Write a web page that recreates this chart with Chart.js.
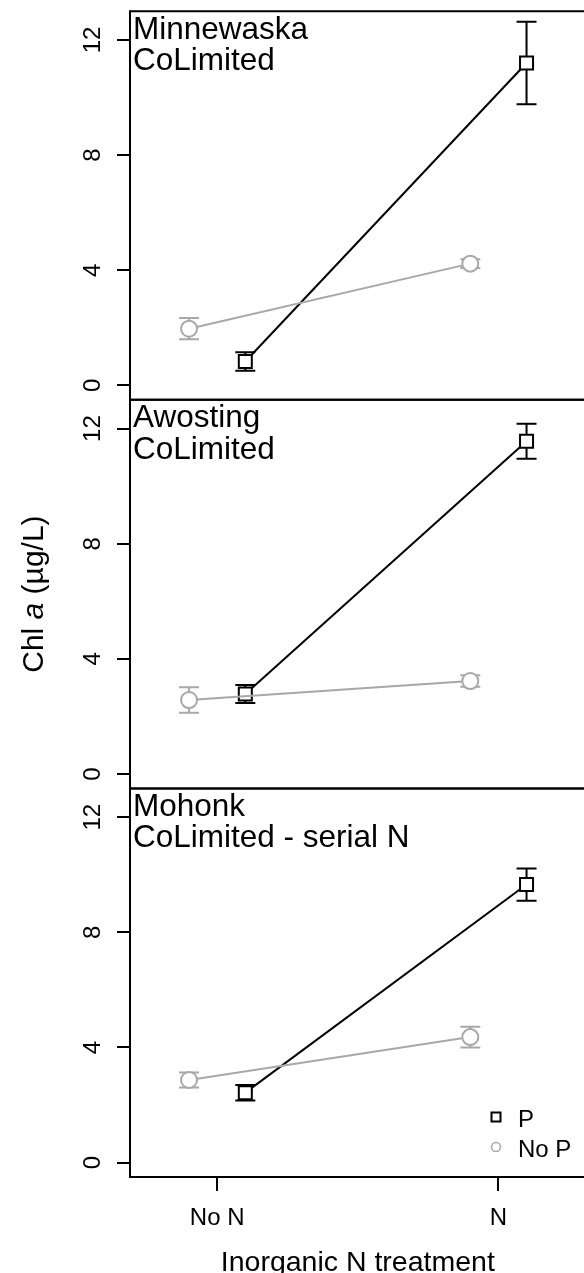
<!DOCTYPE html>
<html><head><meta charset="utf-8">
<script src="https://cdn.jsdelivr.net/npm/chart.js@4.4.0/dist/chart.umd.min.js"></script>
<style>html,body{margin:0;padding:0;background:#fff;}canvas{display:block;}</style>
</head><body>
<canvas id="c" width="584" height="1273"></canvas>
<script>
// ---- data ----
const categories = ["No N", "N"];
const sites = ["Minnewaska", "Awosting", "Mohonk"];
const limitation = ["CoLimited", "CoLimited", "CoLimited - serial N"];
const yTicks = [0, 4, 8, 12];
const seriesNames = ["P", "No P"];
// means and standard errors, ordered [No N, N]
const minnewaskaP = [0.83, 11.2];
const minnewaskaPse = [0.32, 1.43];
const minnewaskaNoP = [1.97, 4.23];
const minnewaskaNoPse = [0.37, 0.15];
const awostingP = [2.78, 11.56];
const awostingPse = [0.31, 0.61];
const awostingNoP = [2.57, 3.23];
const awostingNoPse = [0.44, 0.2];
const mohonkP = [2.43, 9.66];
const mohonkPse = [0.27, 0.56];
const mohonkNoP = [2.87, 4.36];
const mohonkNoPse = [0.26, 0.36];

// ---- styling ----
const FONT = "'Liberation Sans', Arial, sans-serif";
const BLACK = '#000000';
const GRAY = '#a8a8a8';
const DODGE = 0.1;
const PLOT_RIGHT = 585.6; // plot frame continues just past the canvas edge

const panels = [
  {P: minnewaskaP, Pse: minnewaskaPse, NoP: minnewaskaNoP, NoPse: minnewaskaNoPse},
  {P: awostingP, Pse: awostingPse, NoP: awostingNoP, NoPse: awostingNoPse},
  {P: mohonkP, Pse: mohonkPse, NoP: mohonkNoP, NoPse: mohonkNoPse}
];

const datasets = [];
panels.forEach((p, i) => {
  const axis = 'y' + i;
  datasets.push({
    label: seriesNames[1], yAxisID: axis, err: p.NoPse,
    data: categories.map((c, j) => ({x: j + 1 - DODGE, y: p.NoP[j]})),
    borderColor: GRAY, borderWidth: 2, backgroundColor: '#fff',
    pointStyle: 'circle', pointRadius: 8, pointBorderWidth: 2,
    pointBackgroundColor: '#fff', pointBorderColor: GRAY
  });
  datasets.push({
    label: seriesNames[0], yAxisID: axis, err: p.Pse,
    data: categories.map((c, j) => ({x: j + 1 + DODGE, y: p.P[j]})),
    borderColor: BLACK, borderWidth: 2, backgroundColor: '#fff',
    pointStyle: 'rect', pointRadius: 9.2, pointBorderWidth: 2,
    pointBackgroundColor: '#fff', pointBorderColor: BLACK
  });
});

function yScale() {
  return {
    type: 'linear', position: 'left', stack: 'panels', stackWeight: 1,
    min: -0.5, max: 13,
    afterBuildTicks: s => { s.ticks = yTicks.map(v => ({value: v})); },
    afterFit: s => { s.width = 130; s.paddingTop = 0; s.paddingBottom = 0; },
    ticks: {display: false},
    grid: {drawOnChartArea: false, drawTicks: true, tickLength: 13, color: BLACK, lineWidth: 2},
    border: {display: false}
  };
}

const scales = {
  x: {
    type: 'linear', min: 0.69, max: 2.31,
    afterBuildTicks: s => { s.ticks = categories.map((c, j) => ({value: j + 1})); },
    afterFit: s => { s.height = 96; s.paddingLeft = 0; s.paddingRight = 0; },
    ticks: {
      color: BLACK, font: {family: FONT, size: 24}, padding: 13,
      maxRotation: 0, minRotation: 0,
      callback: v => categories[Math.round(v) - 1]
    },
    grid: {drawOnChartArea: false, drawTicks: true, tickLength: 14, color: BLACK, lineWidth: 2},
    border: {display: false},
    title: {display: true, text: 'Inorganic N treatment', color: BLACK, font: {family: FONT, size: 28.5, lineHeight: 0.7}, padding: {top: 6, bottom: 0}}
  }
};
// bottom panel first so the first panel ends up on top of the stack
scales.y2 = yScale();
scales.y1 = yScale();
scales.y0 = yScale();

const widenPlot = {
  id: 'widenPlot',
  afterLayout(chart) {
    const x = chart.scales.x;
    x.right = PLOT_RIGHT;
    x.width = x.right - x.left;
    x.configure();
    chart.chartArea.right = PLOT_RIGHT;
    chart.chartArea.width = PLOT_RIGHT - chart.chartArea.left;
  }
};

const errorBars = {
  id: 'errorBars',
  beforeDatasetsDraw(chart) {
    const ctx = chart.ctx;
    const xs = chart.scales.x;
    chart.data.datasets.forEach((ds) => {
      const ys = chart.scales[ds.yAxisID];
      ds.data.forEach((d, j) => {
        const e = ds.err[j];
        const px = xs.getPixelForValue(d.x);
        const t = ys.getPixelForValue(d.y + e);
        const b = ys.getPixelForValue(d.y - e);
        ctx.save();
        ctx.strokeStyle = ds.borderColor;
        ctx.lineWidth = 2;
        ctx.beginPath();
        ctx.moveTo(px, t); ctx.lineTo(px, b);
        ctx.moveTo(px - 10, t); ctx.lineTo(px + 10, t);
        ctx.moveTo(px - 10, b); ctx.lineTo(px + 10, b);
        ctx.stroke();
        ctx.restore();
      });
    });
  }
};

const decorations = {
  id: 'decorations',
  afterDraw(chart) {
    const ctx = chart.ctx;
    const area = chart.chartArea;
    ctx.save();
    ctx.strokeStyle = BLACK;
    ctx.lineWidth = 2;
    ctx.beginPath();
    ctx.moveTo(area.left, area.top - 1); ctx.lineTo(area.left, area.bottom + 1);
    ctx.stroke();
    [0, 1, 2].forEach(i => {
      const ys = chart.scales['y' + i];
      ctx.beginPath();
      ctx.moveTo(area.left, ys.top); ctx.lineTo(chart.width + 2, ys.top);
      ctx.moveTo(area.left, ys.bottom); ctx.lineTo(chart.width + 2, ys.bottom);
      ctx.stroke();
      // tick labels, rotated
      ctx.fillStyle = BLACK;
      ctx.font = '24px ' + FONT;
      ctx.textAlign = 'center';
      ctx.textBaseline = 'alphabetic';
      yTicks.forEach(v => {
        const py = ys.getPixelForValue(v);
        ctx.save();
        ctx.translate(100, py);
        ctx.rotate(-Math.PI / 2);
        ctx.fillText(String(v), 0, 0);
        ctx.restore();
      });
      // panel labels
      ctx.textAlign = 'left';
      ctx.font = '31.5px ' + FONT;
      ctx.fillText(sites[i], area.left + 3, ys.top + 27.5);
      ctx.fillText(limitation[i], area.left + 3, ys.top + 59);
    });
    // y axis title with italic "a"
    const mid = chart.scales.y1;
    const cy = (mid.top + mid.bottom) / 2;
    const parts = [
      {t: 'Chl ', f: '30px ' + FONT},
      {t: 'a', f: 'italic 30px ' + FONT},
      {t: ' (\u00b5g/L)', f: '30px ' + FONT}
    ];
    let total = 0;
    parts.forEach(p => { ctx.font = p.f; p.w = ctx.measureText(p.t).width; total += p.w; });
    ctx.save();
    ctx.translate(43, cy);
    ctx.rotate(-Math.PI / 2);
    ctx.textAlign = 'left';
    let x0 = -total / 2;
    parts.forEach(p => { ctx.font = p.f; ctx.fillText(p.t, x0, 0); x0 += p.w; });
    ctx.restore();
    // legend
    const ly1 = 1117, ly2 = 1147, lx = 496;
    ctx.lineWidth = 2;
    ctx.strokeStyle = BLACK;
    ctx.strokeRect(lx - 4.5, ly1 - 4.5, 9, 9);
    ctx.strokeStyle = GRAY;
    ctx.lineWidth = 1.5;
    ctx.beginPath(); ctx.arc(lx, ly2, 4.5, 0, Math.PI * 2); ctx.stroke();
    ctx.fillStyle = BLACK;
    ctx.font = '24px ' + FONT;
    ctx.textAlign = 'left';
    ctx.fillText(seriesNames[0], 518, 1127);
    ctx.fillText(seriesNames[1], 518, 1157);
    ctx.restore();
  }
};

new Chart(document.getElementById('c'), {
  type: 'line',
  data: {datasets},
  options: {
    responsive: false, animation: false, devicePixelRatio: 1,
    layout: {padding: {top: 10, left: 0, right: 0, bottom: 0}},
    plugins: {legend: {display: false}, tooltip: {enabled: false}},
    scales
  },
  plugins: [widenPlot, errorBars, decorations]
});
</script>
</body></html>
